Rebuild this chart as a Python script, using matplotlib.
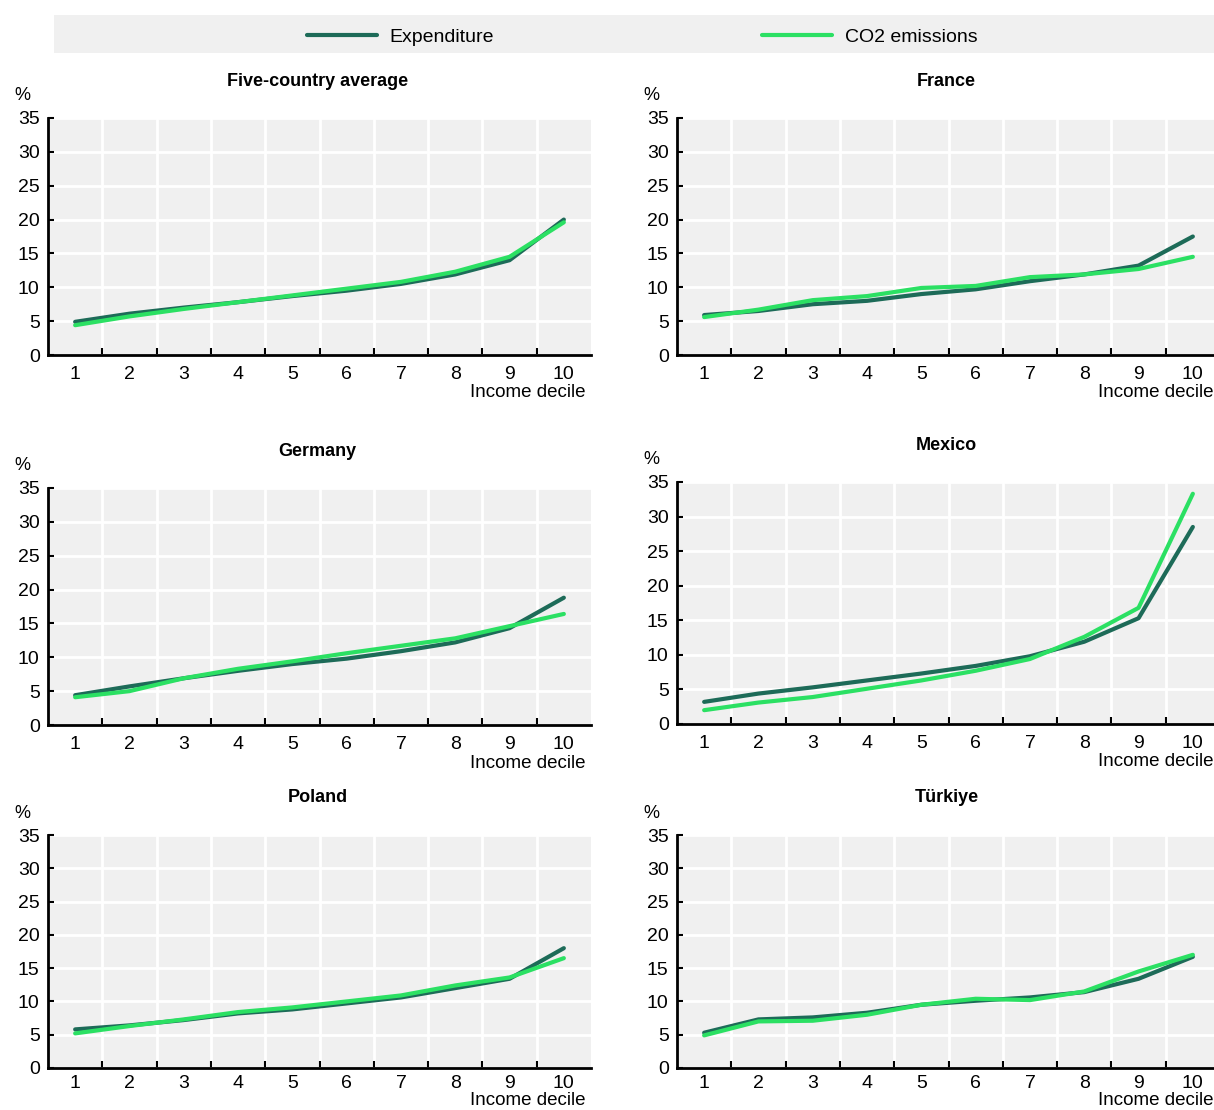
import matplotlib
matplotlib.use("Agg")
import matplotlib.pyplot as plt
from matplotlib.patches import Rectangle

plt.rcParams['font.family'] = ['Liberation Sans Narrow', 'Liberation Sans', 'DejaVu Sans']

deciles = [1, 2, 3, 4, 5, 6, 7, 8, 9, 10]
series_names = ["Expenditure", "CO2 emissions"]
panel_titles = ["Five-country average", "France", "Germany", "Mexico", "Poland", "Türkiye"]

avg_exp = [4.9, 6.1, 7.0, 7.8, 8.7, 9.5, 10.5, 11.9, 14.0, 20.0]
avg_co2 = [4.4, 5.7, 6.8, 7.8, 8.8, 9.8, 10.8, 12.3, 14.5, 19.6]
fra_exp = [5.9, 6.5, 7.5, 8.0, 9.0, 9.7, 10.9, 11.9, 13.2, 17.5]
fra_co2 = [5.6, 6.7, 8.1, 8.7, 9.9, 10.2, 11.5, 11.9, 12.7, 14.5]
deu_exp = [4.4, 5.7, 6.9, 8.0, 9.0, 9.8, 10.9, 12.2, 14.3, 18.8]
deu_co2 = [4.1, 5.0, 6.9, 8.3, 9.4, 10.6, 11.7, 12.8, 14.6, 16.4]
mex_exp = [3.2, 4.4, 5.3, 6.3, 7.3, 8.4, 9.8, 11.9, 15.3, 28.5]
mex_co2 = [2.0, 3.1, 3.9, 5.1, 6.3, 7.7, 9.4, 12.6, 16.8, 33.3]
pol_exp = [5.8, 6.4, 7.2, 8.2, 8.8, 9.7, 10.6, 12.0, 13.4, 18.0]
pol_co2 = [5.2, 6.3, 7.3, 8.4, 9.1, 10.0, 10.9, 12.4, 13.6, 16.5]
tur_exp = [5.3, 7.3, 7.6, 8.3, 9.5, 10.1, 10.6, 11.4, 13.4, 16.7]
tur_co2 = [4.9, 7.0, 7.1, 8.0, 9.5, 10.4, 10.2, 11.5, 14.5, 17.0]

exp_data = [avg_exp, fra_exp, deu_exp, mex_exp, pol_exp, tur_exp]
co2_data = [avg_co2, fra_co2, deu_co2, mex_co2, pol_co2, tur_co2]

yticks = [0, 5, 10, 15, 20, 25, 30, 35]

EXP_COL = '#1d6b58'
CO2_COL = '#2be063'
BG = '#f0f0f0'

W, H = 1214, 1110
fig = plt.figure(figsize=(W / 100, H / 100), dpi=100, facecolor='white')

# panel boxes in pixels: left, right, top, bottom
boxes = [(48, 591, 118, 355), (677, 1220, 118, 355),
         (48, 591, 488, 725), (677, 1220, 482, 724),
         (48, 591, 835, 1068), (677, 1220, 835, 1068)]

def fx(px):
    return px / W

def fy(py):
    return 1 - py / H

handles = None
for i, (l, r, t, b) in enumerate(boxes):
    bottom_row = i >= 4
    ax = fig.add_axes([fx(l), fy(b), (r - l) / W, (b - t) / H])
    ax.set_facecolor(BG)
    le, = ax.plot(deciles, exp_data[i], color=EXP_COL, lw=3, solid_capstyle='round', zorder=3)
    lc, = ax.plot(deciles, co2_data[i], color=CO2_COL, lw=3, solid_capstyle='round', zorder=4)
    ax.set_xlim(0.5, 10.5)
    ax.set_ylim(0, 35)
    ax.set_yticks(yticks)
    ax.set_xticks(deciles)
    ax.set_xticks([d + 0.5 for d in deciles[:-1]], minor=True)
    ax.grid(True, which='minor', axis='x', color='white', lw=2)
    ax.grid(True, which='major', axis='y', color='white', lw=2)
    ax.tick_params(axis='x', which='major', length=0, labelsize=14, pad=5 if bottom_row else 8)
    ax.tick_params(axis='x', which='minor', direction='in', length=5, width=1.5)
    ax.tick_params(axis='y', direction='in', length=4, width=1.5, labelsize=14, pad=6)
    for s in ['top', 'right']:
        ax.spines[s].set_visible(False)
    for s in ['left', 'bottom']:
        ax.spines[s].set_linewidth(2)
        ax.spines[s].set_color('black')
    ax.set_axisbelow(True)

    fig.text(fx((l + r) / 2 - 2), fy(t - 37), panel_titles[i], ha='center', va='center',
             fontsize=13, fontweight='bold')
    fig.text(fx(l - 26), fy(t - 22), '%', ha='center', va='center', fontsize=13)
    xr = r - 6 if r < W else W - 1
    if bottom_row:
        fig.text(fx(xr), fy(H - 1), 'Income decile', ha='right', va='bottom', fontsize=13.5)
    else:
        fig.text(fx(xr), fy(b + 38), 'Income decile', ha='right', va='center', fontsize=13.5)
    if handles is None:
        handles = (le, lc)

# legend strip
fig.patches.append(Rectangle((fx(54), fy(53)), (1214 - 54) / W, 38 / H,
                             transform=fig.transFigure, facecolor=BG, edgecolor='none'))
fig.legend(handles, series_names, loc='center left', bbox_to_anchor=(fx(297), fy(37)),
           ncol=2, frameon=False, fontsize=14, handlelength=3.6, handletextpad=0.65,
           columnspacing=13.8, borderaxespad=0, borderpad=0.5)

fig.savefig('out.png', dpi=100)
